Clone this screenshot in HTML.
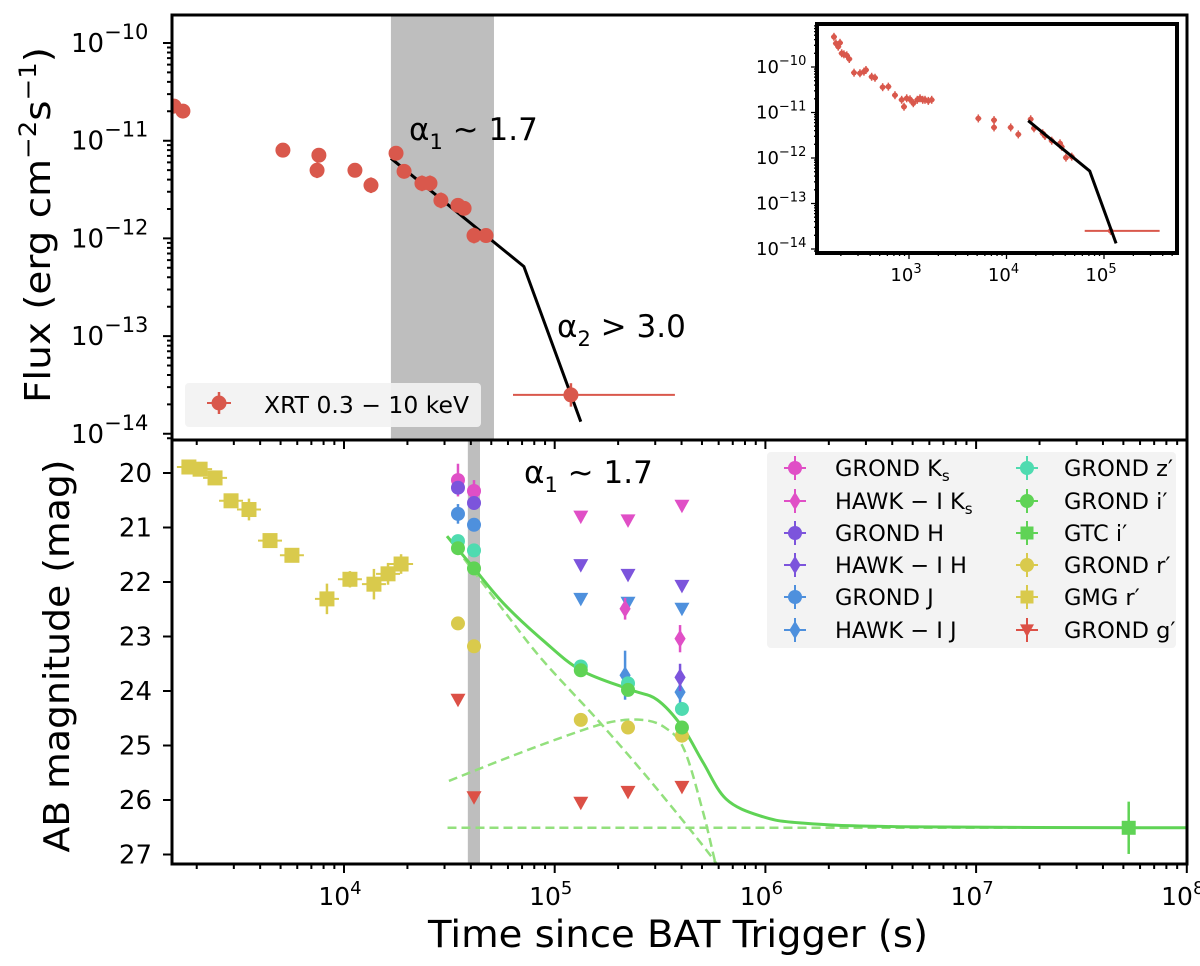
<!DOCTYPE html>
<html><head><meta charset="utf-8"><style>
html,body{margin:0;padding:0;background:#fff;}
svg{display:block;font-family:"DejaVu Sans","Liberation Sans",sans-serif;}
</style></head><body>
<svg id="fig" width="1200" height="966" viewBox="0 0 1200 966" xmlns="http://www.w3.org/2000/svg">
<defs>
<clipPath id="clipTop"><rect x="172" y="15" width="1015" height="425"/></clipPath>
<clipPath id="clipBot"><rect x="172" y="440" width="1015" height="424"/></clipPath>
<clipPath id="clipIn"><rect x="817" y="24" width="360" height="229"/></clipPath>
</defs>
<g id="gBand"></g>
<g id="gTop" clip-path="url(#clipTop)"></g>
<g id="gBot" clip-path="url(#clipBot)"></g>
<g id="gAxes"></g>
<g id="gInset"></g>
<g id="gText"></g>
</svg>
<script>
// ---------- DATA ----------
const xrtT = [1560,1720,5130,7600,7450,11270,13430,17660,19280,23440,25590,28840,34750,37150,41400,47200,119400];
const xrtF = [2.26e-11,2.01e-11,8.0e-12,7.1e-12,4.98e-12,4.98e-12,3.5e-12,7.45e-12,4.86e-12,3.66e-12,3.66e-12,2.45e-12,2.18e-12,2.03e-12,1.07e-12,1.07e-12,2.5e-14];
const xrtErr = [0.04,0.03,0.07,0.07,0.08,0.07,0.08,0.07,0.06,0.08,0.08,0.08,0.06,0.06,0.08,0.06,0.12];
const xrtLastTmin = 63400, xrtLastTmax = 372000;
const fitT = [16700,71400,133000];
const fitF = [6.6e-12,5.16e-13,1.33e-14];
const bandTop = [16700,51500];
const bandBot = [38700,44200];
const insT = [170,178,188,196,204,215,230,244,273,314,345,362,414,448,537,614,718,841,889,947,1024,1107,1216,1297,1383,1459,1578,1709,5140,7450,7450,11040,13210,17700,19140,23500,24820,29100,35400,36800,40700,46700,117000];
const insF = [4.6e-10,3.3e-10,2.8e-10,3.4e-10,2.0e-10,1.9e-10,1.8e-10,1.5e-10,7.5e-11,7.3e-11,7.9e-11,8.6e-11,6.1e-11,5.8e-11,3.6e-11,3.7e-11,2.4e-11,1.9e-11,1.34e-11,2.05e-11,1.95e-11,1.6e-11,1.9e-11,2.05e-11,1.9e-11,1.9e-11,1.8e-11,1.9e-11,7.4e-12,6.8e-12,4.7e-12,4.7e-12,3.3e-12,7.1e-12,4.5e-12,3.5e-12,3.05e-12,2.4e-12,2.1e-12,1.77e-12,1.02e-12,1.07e-12,2.5e-14];

const gKsT=[34750,41400], gKsM=[20.13,20.33], gKsE=[0.3,0.2];
const hKsT=[215800,393500], hKsM=[22.49,23.04], hKsE=[0.2,0.25];
const gHT=[34750,41400], gHM=[20.27,20.55], gHE=[0.12,0.1];
const hHT=[393500], hHM=[23.75], hHE=[0.25];
const gJT=[34750,41400], gJM=[20.75,20.95], gJE=[0.18,0.1];
const hJT=[215800,393500], hJM=[23.71,24.02], hJE=[0.45,0.22];
const gzT=[34750,41400,133000,222800,401700], gzM=[21.25,21.42,23.55,23.86,24.33], gzE=[0.08,0.08,0.1,0.12,0.12];
const giT=[34750,41400,133000,222800,401700], giM=[21.38,21.75,23.62,23.98,24.67], giE=[0.08,0.08,0.1,0.1,0.12];
const gtcT=[53000000], gtcM=[26.51], gtcE=[0.48];
const grT=[34750,41400,133000,222800,401700], grM=[22.76,23.18,24.53,24.67,24.82], grE=[0.08,0.08,0.08,0.08,0.1];
const gmgT=[1836,2075,2443,2910,3540,4455,5660,8300,10670,13870,16180,18660];
const gmgM=[19.89,19.93,20.09,20.51,20.67,21.24,21.51,22.31,21.95,22.04,21.85,21.67];
const gmgE=[0.05,0.05,0.08,0.1,0.2,0.1,0.1,0.28,0.15,0.28,0.2,0.18];
const ulKsT=[133000,222800,401700], ulKsM=[20.8,20.87,20.6];
const ulHT=[133000,222800,401700], ulHM=[21.69,21.87,22.07];
const ulJT=[133000,222800,401700], ulJM=[22.31,22.38,22.49];
const ulgT=[34750,41400,133000,222800,401700], ulgM=[24.16,25.95,26.05,25.85,25.76];
const modT=[30830,41400,57410,87900,133350,230100,306200,401800,505800,650130,941900,1459000,4355000,100000000];
const modM=[21.16,21.75,22.40,23.07,23.62,23.98,24.16,24.65,25.31,25.98,26.29,26.42,26.49,26.51];
const agT=[30830,57410,87900,164100,306200,576800,700000];
const agM=[21.16,22.53,23.44,24.58,25.80,27.13,27.7];
const knT=[31480,57410,108400,179100,259400,333400,411100,505800,576800,640000];
const knM=[25.65,25.25,24.85,24.58,24.53,24.67,25.07,26.22,27.13,27.8];
const hostT=[31000,100000000], hostM=[26.51,26.51];

// ---------- SCALES ----------
const L=Math.log10;
const X=t=>344+210.7*(L(t)-4);
const YF=f=>43+97.7*(-10-L(f));
const YM=m=>473+54.5*(m-20);
const XI=t=>909+97.5*(L(t)-3);
const YI=f=>67+45.5*(-10-L(f));

const NS="http://www.w3.org/2000/svg";
function mk(tag,attrs,parent){const e=document.createElementNS(NS,tag);for(const k in attrs)e.setAttribute(k,attrs[k]);if(parent)parent.appendChild(e);return e;}

const C={xrt:"#d9584c",ks:"#e04fc6",h:"#7c54dc",j:"#4e90dd",z:"#4fdbb0",i:"#5fd355",r:"#d9ca4c",g:"#dc5046",modS:"#5fd355",modD:"#93e07d"};

const gBand=document.getElementById('gBand'), gTop=document.getElementById('gTop'), gBot=document.getElementById('gBot'), gAxes=document.getElementById('gAxes'), gIn=document.getElementById('gInset'), gText=document.getElementById('gText');

let b1=mk('rect',{x:X(bandTop[0]),y:15,width:X(bandTop[1])-X(bandTop[0]),height:425,fill:"#bebebe"},gBand);


let b2=mk('rect',{x:X(bandBot[0]),y:440,width:X(bandBot[1])-X(bandBot[0]),height:424,fill:"#bebebe"},gBand);



function marker(g,shape,cx,cy,color,s){
  let e;
  if(shape==='o') e=mk('circle',{cx:cx,cy:cy,r:s,fill:color},g);
  else if(shape==='s') e=mk('rect',{x:cx-s,y:cy-s,width:2*s,height:2*s,fill:color},g);
  else if(shape==='d') e=mk('polygon',{points:`${cx},${cy-s*1.3} ${cx+s*0.8},${cy} ${cx},${cy+s*1.3} ${cx-s*0.8},${cy}`,fill:color},g);
  else if(shape==='v') e=mk('polygon',{points:`${cx-s},${cy-s*0.8} ${cx+s},${cy-s*0.8} ${cx},${cy+s}`,fill:color},g);
  return e;
}
function errV(g,x,y1,y2,color,w){return mk('line',{x1:x,y1:y1,x2:x,y2:y2,stroke:color,'stroke-width':w||2},g);}

// smooth path (Catmull-Rom)
function smoothPath(pts){
  let d=`M${pts[0][0]},${pts[0][1]}`;
  for(let i=0;i<pts.length-1;i++){
    const p0=pts[Math.max(0,i-1)],p1=pts[i],p2=pts[i+1],p3=pts[Math.min(pts.length-1,i+2)];
    const c1=[p1[0]+(p2[0]-p0[0])/6,p1[1]+(p2[1]-p0[1])/6];
    const c2=[p2[0]-(p3[0]-p1[0])/6,p2[1]-(p3[1]-p1[1])/6];
    d+=`C${c1[0]},${c1[1]} ${c2[0]},${c2[1]} ${p2[0]},${p2[1]}`;
  }
  return d;
}

// ---------- TOP PANEL ----------
let fp=fitT.map((t,i)=>X(t)+','+YF(fitF[i])).join(' ');
let fitLine=mk('polyline',{points:fp,fill:'none',stroke:'#000','stroke-width':3},gTop);


xrtT.forEach((t,i)=>{
  const g=mk('g',{},gTop);
  
  
  const cx=X(t), cy=YF(xrtF[i]);
  errV(g,cx,YF(xrtF[i]*Math.pow(10,xrtErr[i])),YF(xrtF[i]/Math.pow(10,xrtErr[i])),C.xrt,2.5);
  if(i===xrtT.length-1) mk('line',{x1:X(xrtLastTmin),y1:cy,x2:X(xrtLastTmax),y2:cy,stroke:C.xrt,'stroke-width':2},g);
  marker(g,'o',cx,cy,C.xrt,7.5);
});

// ---------- BOTTOM PANEL ----------
function curve(ts,ms,color,dash,w,name){
  const pts=ts.map((t,i)=>[X(t),YM(ms[i])]);
  const p=mk('path',{d:smoothPath(pts),fill:'none',stroke:color,'stroke-width':w,'stroke-linejoin':'round'},gBot);
  if(dash)p.setAttribute('stroke-dasharray',dash);
  
  
}
curve(hostT,hostM,C.modD,"9,5",2.5,'host-component-line');
curve(agT,agM,C.modD,"9,5",2.5,'afterglow-component-line');
curve(knT,knM,C.modD,"9,5",2.5,'kilonova-component-line');
curve(modT,modM,C.modS,null,3,'total-model-line');

function series(ts,ms,es,shape,color,s,name){
  ts.forEach((t,i)=>{
    const g=mk('g',{},gBot);
    
    
    const cx=X(t),cy=YM(ms[i]);
    if(es){errV(g,cx,YM(ms[i]-es[i]),YM(ms[i]+es[i]),color,2.5);}
    if(shape==='s'&&es) mk('line',{x1:cx-12,y1:cy,x2:cx+12,y2:cy,stroke:color,'stroke-width':2},g);
    marker(g,shape,cx,cy,color,s);
  });
}
series(gmgT,gmgM,gmgE,'s',C.r,7.5,'gmg-r-point');
series(ulgT,ulgM,null,'v',C.g,7.5,'grond-g-upper-limit');
series(ulKsT,ulKsM,null,'v',C.ks,7.5,'grond-ks-upper-limit');
series(ulHT,ulHM,null,'v',C.h,7.5,'grond-h-upper-limit');
series(ulJT,ulJM,null,'v',C.j,7.5,'grond-j-upper-limit');
series(grT,grM,grE,'o',C.r,7,'grond-r-point');
series(hKsT,hKsM,hKsE,'d',C.ks,7,'hawki-ks-point');
series(hJT,hJM,hJE,'d',C.j,7,'hawki-j-point');
series(hHT,hHM,hHE,'d',C.h,7,'hawki-h-point');
series(gKsT,gKsM,gKsE,'o',C.ks,7,'grond-ks-point');
series(gHT,gHM,gHE,'o',C.h,7,'grond-h-point');
series(gJT,gJM,gJE,'o',C.j,7,'grond-j-point');
series(gzT,gzM,gzE,'o',C.z,7,'grond-z-point');
series(giT,giM,giE,'o',C.i,7,'grond-i-point');
series(gtcT,gtcM,gtcE,'s',C.i,7,'gtc-i-point');

// ---------- AXES ----------
function ax(tag,attrs,name){const e=mk(tag,attrs,gAxes);return e;}
ax('rect',{x:172,y:15,width:1015,height:425,fill:'none',stroke:'#000','stroke-width':3},'top-panel-frame');
ax('rect',{x:172,y:440,width:1015,height:424,fill:'none',stroke:'#000','stroke-width':3},'bottom-panel-frame');
const xDecades=[3,4,5,6,7,8];
const xTickLabels=['10','10','10','10','10'];
const xTickExp=['4','5','6','7','8'];
let tp='';
for(const d of xDecades){for(let k=1;k<10;k++){const t=k*Math.pow(10,d);const x=X(t);if(x<172||x>1188)continue;const len=k===1?9:5;
  tp+=`M${x},864L${x},${864+len}M${x},440L${x},${440+len}`;}}
ax('path',{d:tp,stroke:'#000','stroke-width':2},'x-axis-ticks');
let yt='';
for(let d=-15;d<=-10;d++){for(let k=1;k<10;k++){const f=k*Math.pow(10,d);const y=YF(f);if(y<15||y>440)continue;const len=k===1?9:5;yt+=`M172,${y}L${172-len},${y}`;}}
ax('path',{d:yt,stroke:'#000','stroke-width':2},'top-y-axis-ticks');
const magTicks=[20,21,22,23,24,25,26,27];
let ym='';magTicks.forEach(m=>{ym+=`M172,${YM(m)}L163,${YM(m)}`;});
ax('path',{d:ym,stroke:'#000','stroke-width':2},'bottom-y-axis-ticks');

function txt(x,y,s,size,anchor,name,extra){const e=mk('text',Object.assign({x:x,y:y,'font-size':size,'text-anchor':anchor||'start',fill:'#000'},extra||{}),gText);e.textContent=s;return e;}
xTickExp.forEach((e,i)=>{const x=X(Math.pow(10,4+i));
  const t=txt(x-4,905,'',25,'middle','x-tick-label');
  const a=mk('tspan',{},t);a.textContent=xTickLabels[i];
  const b=mk('tspan',{dy:-11,'font-size':18},t);b.textContent=e;});
const fluxExp=['−10','−11','−12','−13','−14'];
fluxExp.forEach((e,i)=>{const y=YF(Math.pow(10,-10-i));
  const t=txt(71,y+9,'',26,'start','flux-tick-label');
  const a=mk('tspan',{},t);a.textContent='10';
  const b=mk('tspan',{dy:-13,'font-size':21},t);b.textContent=e;});
magTicks.forEach(m=>{txt(152,YM(m)+9,String(m),26,'end','mag-tick-label');});

const yt1=txt(0,0,'',36,'middle','flux-axis-title',{transform:'translate(50,225) rotate(-90)',textLength:356,lengthAdjust:'spacingAndGlyphs'});
(function(){const p=[['Flux (erg cm',0,36],['−2',-14,24],['s',14,36],['−1',-14,24],[')',14,36]];
 p.forEach(q=>{const s=mk('tspan',{dy:q[1],'font-size':q[2]},yt1);s.textContent=q[0];});})();
txt(0,0,'AB magnitude (mag)',36,'middle','magnitude-axis-title',{transform:'translate(69,656) rotate(-90)',textLength:393,lengthAdjust:'spacingAndGlyphs'});
txt(678,947,'Time since BAT Trigger (s)',37,'middle','x-axis-title',{textLength:500,lengthAdjust:'spacingAndGlyphs'});

function alpha(x,y,sub,rest,name){const t=txt(x,y,'',31,'start',name);
  const a=mk('tspan',{},t);a.textContent='α';
  const b=mk('tspan',{dy:9,'font-size':21},t);b.textContent=sub;
  const c=mk('tspan',{dy:-9},t);c.textContent=rest;}
alpha(409,140,'1',' ~ 1.7','alpha1-annotation-top');
alpha(557,337,'2',' > 3.0','alpha2-annotation');
alpha(524,483,'1',' ~ 1.7','alpha1-annotation-bottom');

(function(){const g=mk('g',{},gText);
 mk('rect',{x:185,y:383,width:296,height:44,rx:4,fill:'#f2f2f2','fill-opacity':0.92},g);
 errV(g,219,392,414,C.xrt,2.5);mk('line',{x1:207,y1:403,x2:231,y2:403,stroke:C.xrt,'stroke-width':2},g);
 marker(g,'o',219,403,C.xrt,7.5);
 const t=mk('text',{x:264,y:413,'font-size':23,fill:'#000',textLength:205,lengthAdjust:'spacingAndGlyphs'},g);t.textContent='XRT 0.3 − 10 keV';})();

(function(){const g=mk('g',{},gText);
 mk('rect',{x:767,y:452,width:409,height:196,rx:4,fill:'#f2f2f2','fill-opacity':0.92},g);
 const rows=[468,501,533,565,597,630];
 const col1=[['o',C.ks,'GROND K','s'],['d',C.ks,'HAWK − I K','s'],['o',C.h,'GROND H',''],['d',C.h,'HAWK − I H',''],['o',C.j,'GROND J',''],['d',C.j,'HAWK − I J','']];
 const col2=[['o',C.z,'GROND z′',''],['o',C.i,'GROND i′',''],['s',C.i,'GTC i′',''],['o',C.r,'GROND r′',''],['s',C.r,'GMG r′',''],['v',C.g,'GROND g′','']];
 [[col1,795,835],[col2,1027,1064]].forEach(([col,mx,tx])=>{col.forEach((e,i)=>{const y=rows[i];
   const eg=mk('g',{},g);
   errV(eg,mx,y-12,y+12,e[1],2);mk('line',{x1:mx-11,y1:y,x2:mx+11,y2:y,stroke:e[1],'stroke-width':2},eg);
   marker(eg,e[0],mx,y,e[1],e[0]==='s'?6.5:7);
   const t=mk('text',{x:tx,y:y+8,'font-size':22.5,fill:'#000'},eg);const a=mk('tspan',{},t);a.textContent=e[2];
   if(e[3]){const b=mk('tspan',{dy:5,'font-size':15},t);b.textContent=e[3];}});});})();

// ---------- INSET ----------
(function(){
 const g=gIn;
 const bg=mk('rect',{x:817,y:24,width:360,height:229,fill:'#fff',stroke:'#000','stroke-width':4},g);
 
 const c=mk('g',{'clip-path':'url(#clipIn)'},g);
 insT.forEach((t,i)=>{const pg=mk('g',{},c);
   
   
   const x=XI(t),y=YI(insF[i]);
   errV(pg,x,y-4,y+4,C.xrt,1.5);mk('line',{x1:x-3,y1:y,x2:x+3,y2:y,stroke:C.xrt,'stroke-width':1.5},pg);
   if(i===insT.length-1) mk('line',{x1:XI(xrtLastTmin),y1:y,x2:XI(xrtLastTmax),y2:y,stroke:C.xrt,'stroke-width':2},pg);
   mk('circle',{cx:x,cy:y,r:2.8,fill:C.xrt},pg);});
 const fl=mk('polyline',{points:fitT.map((t,i)=>XI(t)+','+YI(fitF[i])).join(' '),fill:'none',stroke:'#000','stroke-width':3},c);
 
 let d='';
 for(let dd=2;dd<=5;dd++)for(let k=1;k<10;k++){const x=XI(k*Math.pow(10,dd));if(x<817||x>1177)continue;d+=`M${x},253L${x},${253+(k===1?6:3)}`;}
 for(let dd=-15;dd<=-9;dd++)for(let k=1;k<10;k++){const y=YI(k*Math.pow(10,dd));if(y<24||y>253)continue;d+=`M817,${y}L${817-(k===1?6:3)},${y}`;}
 const tk=mk('path',{d:d,stroke:'#000','stroke-width':1.3},g);
 const inXExp=['3','4','5'];
 inXExp.forEach((e,i)=>{const t=mk('text',{x:XI(Math.pow(10,3+i))-3,y:281,'font-size':18,'text-anchor':'middle'},g);
   
   const a=mk('tspan',{},t);a.textContent='10';const b=mk('tspan',{dy:-8,'font-size':13},t);b.textContent=e;});
 const inYExp=['−10','−11','−12','−13','−14'];
 inYExp.forEach((e,i)=>{const t=mk('text',{x:756,y:YI(Math.pow(10,-10-i))+6,'font-size':18},g);
   
   const a=mk('tspan',{},t);a.textContent='10';const b=mk('tspan',{dy:-8,'font-size':13},t);b.textContent=e;});
})();
</script>
</body></html>
